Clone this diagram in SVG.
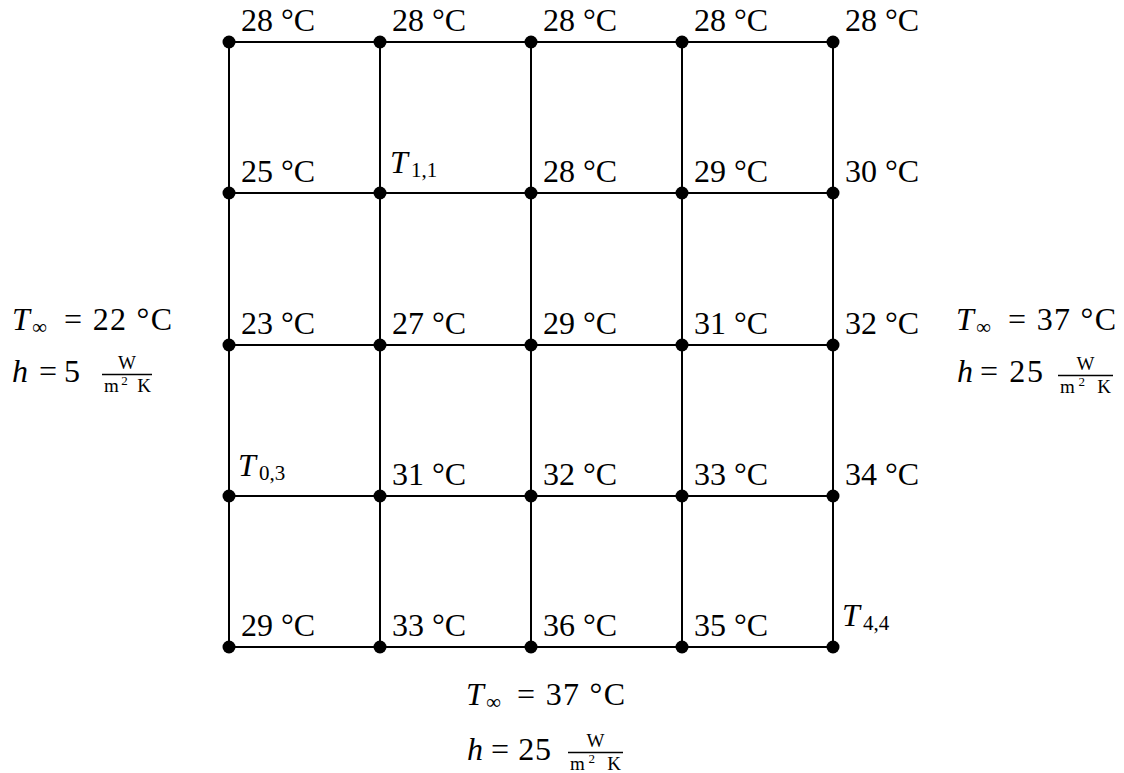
<svg xmlns="http://www.w3.org/2000/svg" width="1124" height="773" viewBox="0 0 1124 773">
<style>
text{font-family:"Liberation Serif","Times New Roman",serif;fill:#000;font-size:32px}
.it{font-style:italic}
.sub{font-size:21px}
.fr{font-size:19px}
.sup{font-size:13px}
.ln{stroke:#000;stroke-width:2;fill:none}
.bar{stroke:#000;stroke-width:1.3}
.dot{fill:#000}
</style>
<rect width="1124" height="773" fill="#fff"/>
<g id="connectors" class="ln">
<line x1="229" y1="42" x2="833" y2="42"/>
<line x1="229" y1="193" x2="833" y2="193"/>
<line x1="229" y1="345" x2="833" y2="345"/>
<line x1="229" y1="496" x2="833" y2="496"/>
<line x1="229" y1="647" x2="833" y2="647"/>
<line x1="229" y1="42" x2="229" y2="647"/>
<line x1="380" y1="42" x2="380" y2="647"/>
<line x1="531" y1="42" x2="531" y2="647"/>
<line x1="682" y1="42" x2="682" y2="647"/>
<line x1="833" y1="42" x2="833" y2="647"/>
</g>
<g id="row0">
<g id="n00"><circle class="dot" cx="229" cy="42" r="6.5"/><text x="241" y="31" textLength="74">28 °C</text></g>
<g id="n10"><circle class="dot" cx="380" cy="42" r="6.5"/><text x="392" y="31" textLength="74">28 °C</text></g>
<g id="n20"><circle class="dot" cx="531" cy="42" r="6.5"/><text x="543" y="31" textLength="74">28 °C</text></g>
<g id="n30"><circle class="dot" cx="682" cy="42" r="6.5"/><text x="694" y="31" textLength="74">28 °C</text></g>
<g id="n40"><circle class="dot" cx="833" cy="42" r="6.5"/><text x="845" y="31" textLength="74">28 °C</text></g>
</g>
<g id="row1">
<g id="n01"><circle class="dot" cx="229" cy="193" r="6.5"/><text x="241" y="182" textLength="74">25 °C</text></g>
<g id="n11"><circle class="dot" cx="380" cy="193" r="6.5"/><text x="390" y="173"><tspan class="it">T</tspan><tspan class="sub" x="411" dy="4">1,1</tspan></text></g>
<g id="n21"><circle class="dot" cx="531" cy="193" r="6.5"/><text x="543" y="182" textLength="74">28 °C</text></g>
<g id="n31"><circle class="dot" cx="682" cy="193" r="6.5"/><text x="694" y="182" textLength="74">29 °C</text></g>
<g id="n41"><circle class="dot" cx="833" cy="193" r="6.5"/><text x="845" y="182" textLength="74">30 °C</text></g>
</g>
<g id="row2">
<g id="n02"><circle class="dot" cx="229" cy="345" r="6.5"/><text x="241" y="334" textLength="74">23 °C</text></g>
<g id="n12"><circle class="dot" cx="380" cy="345" r="6.5"/><text x="392" y="334" textLength="74">27 °C</text></g>
<g id="n22"><circle class="dot" cx="531" cy="345" r="6.5"/><text x="543" y="334" textLength="74">29 °C</text></g>
<g id="n32"><circle class="dot" cx="682" cy="345" r="6.5"/><text x="694" y="334" textLength="74">31 °C</text></g>
<g id="n42"><circle class="dot" cx="833" cy="345" r="6.5"/><text x="845" y="334" textLength="74">32 °C</text></g>
</g>
<g id="row3">
<g id="n03"><circle class="dot" cx="229" cy="496" r="6.5"/><text x="238" y="476"><tspan class="it">T</tspan><tspan class="sub" x="259" dy="4">0,3</tspan></text></g>
<g id="n13"><circle class="dot" cx="380" cy="496" r="6.5"/><text x="392" y="485" textLength="74">31 °C</text></g>
<g id="n23"><circle class="dot" cx="531" cy="496" r="6.5"/><text x="543" y="485" textLength="74">32 °C</text></g>
<g id="n33"><circle class="dot" cx="682" cy="496" r="6.5"/><text x="694" y="485" textLength="74">33 °C</text></g>
<g id="n43"><circle class="dot" cx="833" cy="496" r="6.5"/><text x="845" y="485" textLength="74">34 °C</text></g>
</g>
<g id="row4">
<g id="n04"><circle class="dot" cx="229" cy="647" r="6.5"/><text x="241" y="636" textLength="74">29 °C</text></g>
<g id="n14"><circle class="dot" cx="380" cy="647" r="6.5"/><text x="392" y="636" textLength="74">33 °C</text></g>
<g id="n24"><circle class="dot" cx="531" cy="647" r="6.5"/><text x="543" y="636" textLength="74">36 °C</text></g>
<g id="n34"><circle class="dot" cx="682" cy="647" r="6.5"/><text x="694" y="636" textLength="74">35 °C</text></g>
<g id="n44"><circle class="dot" cx="833" cy="647" r="6.5"/><text x="842" y="626"><tspan class="it">T</tspan><tspan class="sub" x="863" dy="4">4,4</tspan></text></g>
</g>
<g id="left-boundary">
<text x="12" y="330"><tspan class="it">T</tspan><tspan class="sub" x="32" dy="4" textLength="21">∞</tspan></text>
<text x="64" y="330" textLength="108">= 22 °C</text>
<text x="12" y="382"><tspan class="it">h</tspan></text>
<text x="39" y="382" textLength="41">= 5</text>
<text class="fr" x="127" y="369" text-anchor="middle">W</text>
<line class="bar" x1="102" y1="374.5" x2="152" y2="374.5"/>
<text class="fr" x="104" y="392" textLength="47">m<tspan class="sup" dy="-7">2</tspan><tspan dy="7"> K</tspan></text>
</g>
<g id="right-boundary">
<text x="956" y="330"><tspan class="it">T</tspan><tspan class="sub" x="976" dy="4" textLength="21">∞</tspan></text>
<text x="1008" y="330" textLength="108">= 37 °C</text>
<text x="957" y="382"><tspan class="it">h</tspan></text>
<text x="980" y="382" textLength="63">= 25</text>
<text class="fr" x="1085.5" y="370" text-anchor="middle">W</text>
<line class="bar" x1="1058" y1="375.5" x2="1113" y2="375.5"/>
<text class="fr" x="1060" y="393" textLength="51">m<tspan class="sup" dy="-7">2</tspan><tspan dy="7"> K</tspan></text>
</g>
<g id="bottom-boundary">
<text x="466" y="705"><tspan class="it">T</tspan><tspan class="sub" x="486" dy="4" textLength="21">∞</tspan></text>
<text x="517" y="705" textLength="108">= 37 °C</text>
<text x="467" y="760"><tspan class="it">h</tspan></text>
<text x="491" y="760" textLength="60">= 25</text>
<text class="fr" x="595.5" y="747" text-anchor="middle">W</text>
<line class="bar" x1="568" y1="752.5" x2="623" y2="752.5"/>
<text class="fr" x="570" y="770" textLength="51">m<tspan class="sup" dy="-7">2</tspan><tspan dy="7"> K</tspan></text>
</g>
</svg>
